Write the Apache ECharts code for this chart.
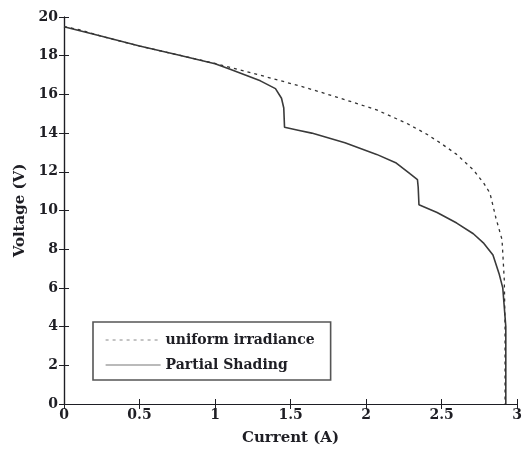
<!DOCTYPE html>
<html>
<head>
<meta charset="utf-8">
<script src="https://cdn.jsdelivr.net/npm/echarts@6/dist/echarts.min.js"></script>
<style>
  html, body { margin: 0; padding: 0; background: #fff; }
  #chart { width: 525px; height: 457px; }
</style>
</head>
<body>
<div id="chart"></div>
<script>
// I–V characteristics of a PV string: current (A) vs voltage (V)
const seriesNames = ['uniform irradiance', 'Partial Shading'];

const uniformIrradiance = [
  [0, 19.5], [0.1, 19.35], [0.25, 19.0], [0.5, 18.5], [0.75, 18.05],
  [1.0, 17.6], [1.2, 17.2], [1.46, 16.65], [1.6, 16.35], [1.81, 15.85],
  [2.07, 15.2], [2.27, 14.5], [2.4, 13.95], [2.49, 13.5], [2.6, 12.9],
  [2.71, 12.1], [2.78, 11.4], [2.82, 10.9], [2.86, 9.6], [2.9, 8.5],
  [2.915, 6.4], [2.92, 4.0], [2.92, 0]
];

const partialShading = [
  [0, 19.5], [0.25, 19.0], [0.5, 18.5], [0.75, 18.05], [1.0, 17.58],
  [1.1, 17.3], [1.2, 17.0], [1.3, 16.7], [1.4, 16.3], [1.44, 15.8], [1.455, 15.3],
  [1.46, 14.3], [1.55, 14.15], [1.64, 14.0], [1.86, 13.5], [2.07, 12.9],
  [2.2, 12.45], [2.29, 11.9], [2.34, 11.6], [2.345, 11.2], [2.35, 10.3],
  [2.47, 9.9], [2.6, 9.35], [2.71, 8.8], [2.78, 8.3], [2.84, 7.7],
  [2.88, 6.75], [2.905, 6.0], [2.915, 5.0], [2.925, 4.0], [2.925, 0]
];

const xTicks = { min: 0, max: 3, interval: 0.5 };
const yTicks = { min: 0, max: 20, interval: 2 };

const font = 'DejaVu Serif';
const ink = '#1e1e24';

const frameAxis = {
  axisLine: { show: true, lineStyle: { color: ink, width: 1.2 } },
  axisTick: { show: true, inside: true, length: 5, lineStyle: { color: ink } },
  splitLine: { show: false }
};

const chart = echarts.init(document.getElementById('chart'));
chart.setOption({
  animation: false,
  backgroundColor: '#fff',
  grid: { left: 64, right: 3, top: 17, bottom: 53 },
  legend: {
    orient: 'vertical',
    left: 93,
    top: 322,
    itemWidth: 55,
    itemHeight: 14,
    itemGap: 11,
    padding: [11, 16, 8, 12],
    borderColor: '#555',
    borderWidth: 1.6,
    itemStyle: { color: 'rgba(0,0,0,0)', borderWidth: 0 },
    textStyle: { fontFamily: font, fontWeight: 'bold', fontSize: 14, color: ink },
    data: [
      { name: seriesNames[0], lineStyle: { color: '#888', width: 1 } },
      { name: seriesNames[1], lineStyle: { color: '#777', width: 1.2 } }
    ]
  },
  xAxis: [
    Object.assign({
      type: 'value', min: xTicks.min, max: xTicks.max, interval: xTicks.interval,
      name: 'Current (A)', nameLocation: 'middle', nameGap: 27,
      nameTextStyle: { fontFamily: font, fontWeight: 'bold', fontSize: 15, color: ink },
      axisLabel: {
        fontFamily: font, fontWeight: 'bold', fontSize: 14, color: ink, margin: 4,
        formatter: v => String(v)
      }
    }, frameAxis),
    Object.assign({
      type: 'value', position: 'top', min: xTicks.min, max: xTicks.max, interval: xTicks.interval,
      axisLabel: { show: false }
    }, frameAxis)
  ],
  yAxis: [
    Object.assign({
      type: 'value', min: yTicks.min, max: yTicks.max, interval: yTicks.interval,
      name: 'Voltage (V)', nameLocation: 'middle', nameGap: 35,
      nameTextStyle: { fontFamily: font, fontWeight: 'bold', fontSize: 15, color: ink },
      axisLabel: { fontFamily: font, fontWeight: 'bold', fontSize: 14, color: ink, margin: 6 }
    }, frameAxis),
    Object.assign({
      type: 'value', position: 'right', min: yTicks.min, max: yTicks.max, interval: yTicks.interval,
      axisLabel: { show: false }
    }, frameAxis)
  ],
  series: [
    {
      name: seriesNames[0],
      type: 'line',
      symbol: 'none',
      data: uniformIrradiance,
      lineStyle: { color: '#333', width: 1.3, type: [3, 4] },
      itemStyle: { color: '#333' },
      z: 3
    },
    {
      name: seriesNames[1],
      type: 'line',
      symbol: 'none',
      data: partialShading,
      lineStyle: { color: '#3a3a3a', width: 1.6 },
      itemStyle: { color: '#3a3a3a' },
      z: 2
    }
  ]
});
</script>
</body>
</html>
